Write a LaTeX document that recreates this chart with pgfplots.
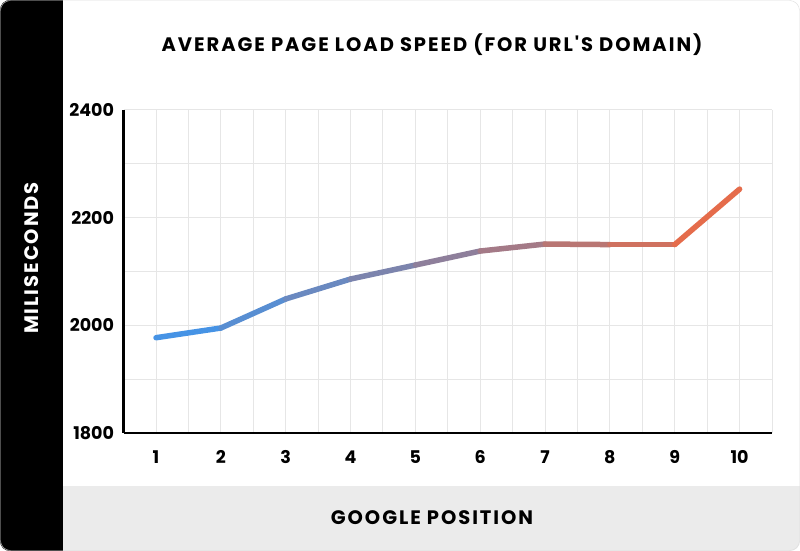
\documentclass[border=0pt]{standalone}
\usepackage{fontspec}
\setmainfont{Poppins}
\newfontfamily\capsfont{Poppins}[LetterSpace=10]
\usepackage{pgfplots}
\pgfplotsset{compat=1.18}

\definecolor{bandgrey}{HTML}{EBEBEB}
\definecolor{gridgrey}{HTML}{E6E6E6}
\definecolor{framegrey}{HTML}{DDDDDD}

\begin{document}
\begin{tikzpicture}[x=1pt,y=1pt]
\useasboundingbox (0,0) rectangle (800,551);
\begin{scope}
  \clip[rounded corners=10pt] (0,0) rectangle (800,551);
  \fill[white] (0,0) rectangle (800,551);
  \fill[bandgrey] (63,0) rectangle (800,65);
  \fill[black] (0,0) rectangle (63,551);
\end{scope}
\draw[framegrey, rounded corners=10pt] (0.5,0.5) rectangle (799.5,550.5);

\node[font={\capsfont\bfseries\fontsize{19.5}{22}\selectfont}] at (432,506)
  {AVERAGE PAGE LOAD SPEED (FOR URL'S DOMAIN)};
\node[font={\capsfont\bfseries\fontsize{19.5}{22}\selectfont}, text=white, rotate=90] at (32,293)
  {MILISECONDS};
\node[font={\capsfont\bfseries\fontsize{19.5}{22}\selectfont}] at (432,33)
  {GOOGLE POSITION};

\begin{axis}[
  at={(123.6pt,118pt)}, anchor=south west,
  scale only axis, width=648.4pt, height=323pt,
  xmin=0.5, xmax=10.5, ymin=1800, ymax=2400,
  axis x line=bottom, axis y line=left,
  axis line style={-, line width=2.5pt, black},
  xtick={1,...,10},
  minor xtick={1.5,2.5,...,10.5},
  ytick={1800,2000,2200,2400},
  minor ytick={1900,2100,2300},
  major tick length=0pt, minor tick length=0pt,
  grid=both,
  major grid style={gridgrey, line width=1pt},
  minor grid style={gridgrey, line width=1pt},
  ticklabel style={font=\bfseries\fontsize{17.5}{20}\selectfont},
  /pgf/number format/assume math mode=true,
  /pgf/number format/1000 sep={},
  xticklabel style={yshift=-14pt},
  yticklabel style={xshift=-6pt},
  colormap={grad}{rgb255=(61,150,238) rgb255=(142,127,155) rgb255=(240,106,65)},
  point meta min=1, point meta max=10,
  clip=false,
]
\addplot[mesh, point meta=x, line width=5.5pt, line cap=round, line join=round, shader=interp]
coordinates {
(1,1977) (2,1995) (3,2049) (4,2086) (5,2112)
(6,2138) (7,2151) (8,2150) (9,2150) (10,2253)
};
\end{axis}
\end{tikzpicture}
\end{document}
